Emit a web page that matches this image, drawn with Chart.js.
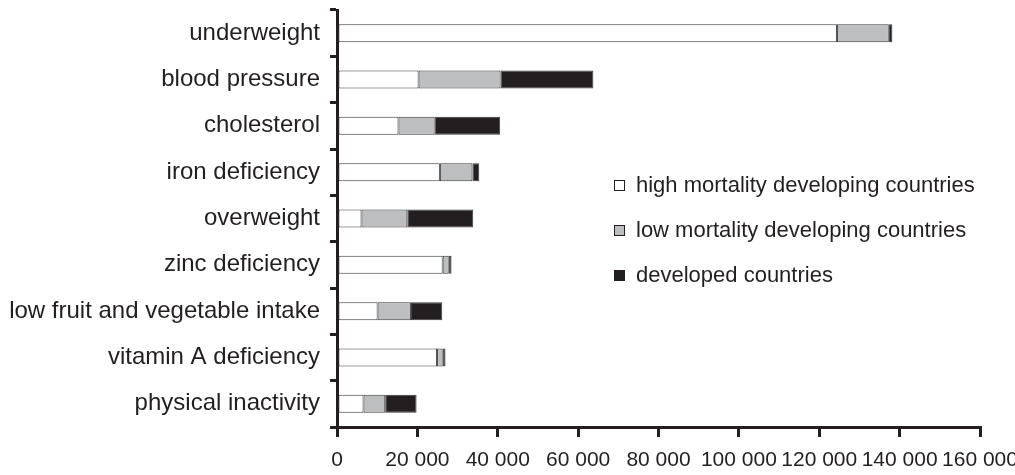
<!DOCTYPE html>
<html>
<head>
<meta charset="utf-8">
<script src="https://cdn.jsdelivr.net/npm/chart.js@4/dist/chart.umd.min.js"></script>
<style>
  html, body { margin: 0; padding: 0; background: #fff; }
  #wrap { width: 1015px; height: 475px; position: relative; }
</style>
</head>
<body>
<div id="wrap"><canvas id="riskChart"></canvas></div>
<script>
const categories = [
    'underweight', 'blood pressure', 'cholesterol', 'iron deficiency', 'overweight',
    'zinc deficiency', 'low fruit and vegetable intake', 'vitamin A deficiency', 'physical inactivity'
];
const seriesNames = [
    'high mortality developing countries', 'low mortality developing countries', 'developed countries'
];
const highMortality = [124400, 20300, 15300, 25600, 6100, 26300, 10100, 24900, 6600];
const lowMortality = [12900, 20400, 9000, 8100, 11400, 1500, 8300, 1400, 5400];
const developed = [900, 23100, 16300, 1700, 16400, 700, 7800, 700, 7800];
const xTicks = [0, 20000, 40000, 60000, 80000, 100000, 120000, 140000, 160000];

const SERIES_COLORS = ['#ffffff', '#bcbec0', '#231f20'];
const INK = '#231f20';
const FONT = '"Liberation Sans", Arial, sans-serif';

function fmtThousands(v) {
    return String(v).replace(/\B(?=(\d{3})+(?!\d))/g, ' ');
}

// legend sits inside the plot area in the original, so draw it by hand
const insideLegend = {
    id: 'insideLegend',
    afterDraw(chart) {
        const ctx = chart.ctx;
        const rows = [185, 230, 275];
        ctx.save();
        ctx.font = '22px ' + FONT;
        ctx.textBaseline = 'middle';
        chart.data.datasets.forEach((ds, i) => {
            const y = rows[i];
            ctx.fillStyle = ds.backgroundColor;
            ctx.fillRect(614, y - 5, 11, 11);
            ctx.strokeStyle = INK;
            ctx.lineWidth = 1;
            ctx.strokeRect(614.5, y - 4.5, 10, 10);
            ctx.fillStyle = INK;
            ctx.fillText(ds.label, 636, y + 1);
        });
        ctx.restore();
    }
};

const datasets = [highMortality, lowMortality, developed].map((data, i) => ({
    label: seriesNames[i],
    data,
    backgroundColor: SERIES_COLORS[i],
    borderColor: '#3a3a3a',
    borderWidth: 1,
    borderSkipped: false,
    categoryPercentage: 1,
    barPercentage: 0.39,
}));

new Chart(document.getElementById('riskChart'), {
    type: 'bar',
    data: { labels: categories, datasets },
    options: {
        indexAxis: 'y',
        responsive: true,
        maintainAspectRatio: false,
        animation: false,
        layout: { padding: { top: 10, right: 35, left: 0, bottom: 0 } },
        plugins: { legend: { display: false }, tooltip: { enabled: false } },
        scales: {
            x: {
                stacked: true,
                min: 0,
                max: 160000,
                afterBuildTicks: axis => { axis.ticks = xTicks.map(v => ({ value: v })); },
                afterFit: axis => {
                    axis.height = 48;
                    axis.paddingLeft = 0;
                    axis.paddingRight = 0;
                },
                border: { display: true, color: INK, width: 3 },
                grid: { drawOnChartArea: false, tickLength: 10, color: INK, lineWidth: 3 },
                ticks: {
                    color: INK,
                    font: { family: FONT, size: 21 },
                    padding: 11,
                    maxRotation: 0,
                    autoSkip: false,
                    callback: v => fmtThousands(v),
                }
            },
            y: {
                stacked: true,
                afterFit: axis => {
                    axis.width = 337;
                    axis.paddingTop = 0;
                    axis.paddingBottom = 0;
                },
                border: { display: true, color: INK, width: 3 },
                grid: { offset: true, drawOnChartArea: false, tickLength: 7, color: INK, lineWidth: 3 },
                ticks: {
                    color: INK,
                    font: { family: FONT, size: 24 },
                    padding: 10,
                    autoSkip: false,
                }
            }
        }
    },
    plugins: [insideLegend]
});
</script>
</body>
</html>
